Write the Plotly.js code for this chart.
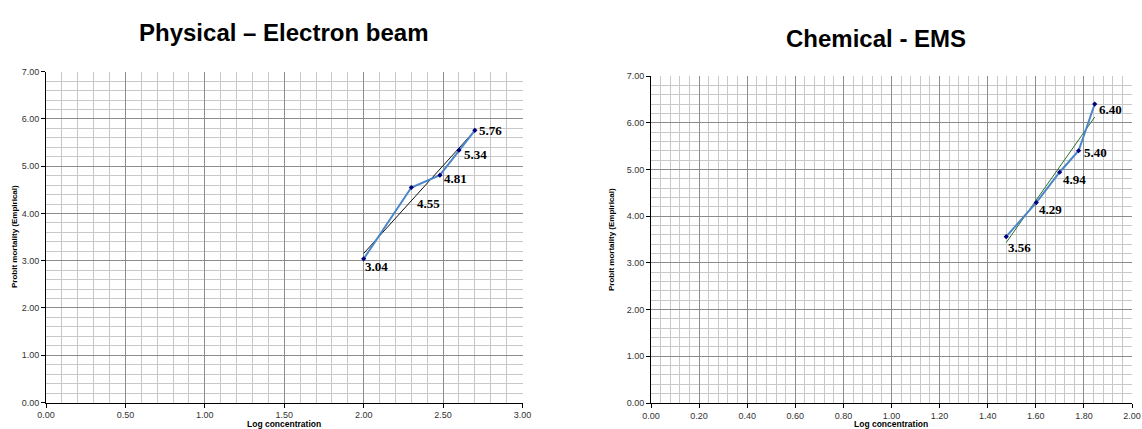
<!DOCTYPE html>
<html>
<head>
<meta charset="utf-8">
<script src="https://cdn.plot.ly/plotly-3.0.1.min.js"></script>
<style>html,body{margin:0;padding:0;background:#fff;}#chart{width:1142px;height:429px;}</style>
</head>
<body>
<div id="chart"></div>
<script>
// ---- Data ----
var titleLeft = "Physical \u2013 Electron beam";
var titleRight = "Chemical - EMS";
var xAxisTitle = "Log concentration";
var yAxisTitle = "Probit mortality (Empirical)";

var physLogConc = [2.00, 2.30, 2.48, 2.60, 2.70];
var physProbit  = [3.04, 4.55, 4.81, 5.34, 5.76];

var chemLogConc = [1.477, 1.602, 1.699, 1.778, 1.845];
var chemProbit  = [3.56, 4.29, 4.94, 5.40, 6.40];

// ---- helpers ----
function fitLine(xs, ys) {
  var n = xs.length, mx = 0, my = 0;
  for (var i = 0; i < n; i++) { mx += xs[i]; my += ys[i]; }
  mx /= n; my /= n;
  var sxy = 0, sxx = 0;
  for (var j = 0; j < n; j++) { sxy += (xs[j]-mx)*(ys[j]-my); sxx += (xs[j]-mx)*(xs[j]-mx); }
  var b = sxy / sxx, a = my - b*mx;
  var x0 = Math.min.apply(null, xs), x1 = Math.max.apply(null, xs);
  return {x: [x0, x1], y: [a + b*x0, a + b*x1]};
}

var physFit = fitLine(physLogConc, physProbit);
var chemFit = fitLine(chemLogConc, chemProbit);

var lineColor = '#4a86c8';
var markerColor = '#00007a';

var traces = [
  {x: physFit.x, y: physFit.y, xaxis: 'x', yaxis: 'y', mode: 'lines',
   line: {color: '#111111', width: 1}, hoverinfo: 'skip'},
  {x: physLogConc, y: physProbit, xaxis: 'x', yaxis: 'y', mode: 'lines+markers',
   line: {color: lineColor, width: 2}, marker: {symbol: 'diamond', size: 4, color: markerColor}},
  {x: chemFit.x, y: chemFit.y, xaxis: 'x2', yaxis: 'y2', mode: 'lines',
   line: {color: '#2f6e2f', width: 1}, hoverinfo: 'skip'},
  {x: chemLogConc, y: chemProbit, xaxis: 'x2', yaxis: 'y2', mode: 'lines+markers',
   line: {color: lineColor, width: 2}, marker: {symbol: 'diamond', size: 4, color: markerColor}}
];

// label offsets (px) relative to points
var physShift = [[13,-8],[17,-16],[16,-3],[17,-4],[16,0]];
var chemShift = [[13,-11],[14,-7],[15,-7],[17,-2],[16,-5]];

var annotations = [];
function addLabels(xs, ys, shifts, xr, yr) {
  for (var i = 0; i < xs.length; i++) {
    annotations.push({x: xs[i], y: ys[i], xref: xr, yref: yr, text: ys[i].toFixed(2),
      showarrow: false, xanchor: 'center', yanchor: 'middle',
      xshift: shifts[i][0], yshift: shifts[i][1],
      font: {family: 'Liberation Serif, Times New Roman, serif', size: 13, color: '#000', weight: 'bold'}});
  }
}
addLabels(physLogConc, physProbit, physShift, 'x', 'y');
addLabels(chemLogConc, chemProbit, chemShift, 'x2', 'y2');

var titleFont = {family: 'Liberation Sans, Arial, sans-serif', size: 24, color: '#000', weight: 'bold'};
var axTitleFont = {family: 'Liberation Sans, Arial, sans-serif', size: 8.5, color: '#000', weight: 'bold'};
var W = 1142, H = 429;
annotations.push({text: titleLeft, xref: 'paper', yref: 'paper', x: 283/W, y: 1-32/H, showarrow: false, xanchor: 'center', yanchor: 'middle', font: titleFont});
annotations.push({text: titleRight, xref: 'paper', yref: 'paper', x: 876/W, y: 1-38/H, showarrow: false, xanchor: 'center', yanchor: 'middle', font: titleFont});
annotations.push({text: xAxisTitle, xref: 'paper', yref: 'paper', x: 284/W, y: 1-424/H, showarrow: false, xanchor: 'center', yanchor: 'middle', font: axTitleFont});
annotations.push({text: xAxisTitle, xref: 'paper', yref: 'paper', x: 891/W, y: 1-424/H, showarrow: false, xanchor: 'center', yanchor: 'middle', font: axTitleFont});
annotations.push({text: yAxisTitle, xref: 'paper', yref: 'paper', x: 15/W, y: 1-237/H, showarrow: false, textangle: -90, xanchor: 'center', yanchor: 'middle', font: {family: axTitleFont.family, size: 8, color: '#000', weight: 'bold'}});
annotations.push({text: yAxisTitle, xref: 'paper', yref: 'paper', x: 611/W, y: 1-240/H, showarrow: false, textangle: -90, xanchor: 'center', yanchor: 'middle', font: {family: axTitleFont.family, size: 8, color: '#000', weight: 'bold'}});

var tickFont = {family: 'Liberation Sans, Arial, sans-serif', size: 9, color: '#333'};
var majorGrid = '#8c8c8c', minorGrid = '#c8c8c8';
function xAx(domain, range, dtick, mdtick) {
  return {domain: domain, range: range, dtick: dtick, tick0: 0, tickformat: '.2f',
    showgrid: true, gridcolor: majorGrid, gridwidth: 1, zeroline: false,
    showline: true, linecolor: '#000', linewidth: 1, ticks: 'outside', ticklen: 4, tickcolor: '#000',
    tickfont: tickFont, fixedrange: true,
    minor: {dtick: mdtick, tick0: 0, showgrid: true, gridcolor: minorGrid, gridwidth: 1, ticks: ''}};
}
function yAx(domain, anchor) {
  return {domain: domain, range: [0, 7], dtick: 1, tick0: 0, tickformat: '.2f', anchor: anchor,
    showgrid: true, gridcolor: majorGrid, gridwidth: 1, zeroline: false,
    showline: true, linecolor: '#000', linewidth: 1, ticks: 'outside', ticklen: 4, tickcolor: '#000',
    tickfont: tickFont, fixedrange: true,
    minor: {dtick: 0.2, tick0: 0, showgrid: true, gridcolor: minorGrid, gridwidth: 1, ticks: ''}};
}

var layout = {
  width: W, height: H,
  margin: {l: 0, r: 0, t: 0, b: 0},
  paper_bgcolor: '#fff', plot_bgcolor: '#fff',
  showlegend: false,
  xaxis: Object.assign(xAx([46/W, 522.5/W], [0, 3], 0.5, 0.1), {anchor: 'y'}),
  yaxis: yAx([1-402.5/H, 1-71.7/H], 'x'),
  xaxis2: Object.assign(xAx([651/W, 1132/W], [0, 2], 0.2, 0.04), {anchor: 'y2'}),
  yaxis2: yAx([1-403/H, 1-76/H], 'x2'),
  annotations: annotations
};

Plotly.newPlot('chart', traces, layout, {displayModeBar: false, staticPlot: true});
</script>
</body>
</html>
